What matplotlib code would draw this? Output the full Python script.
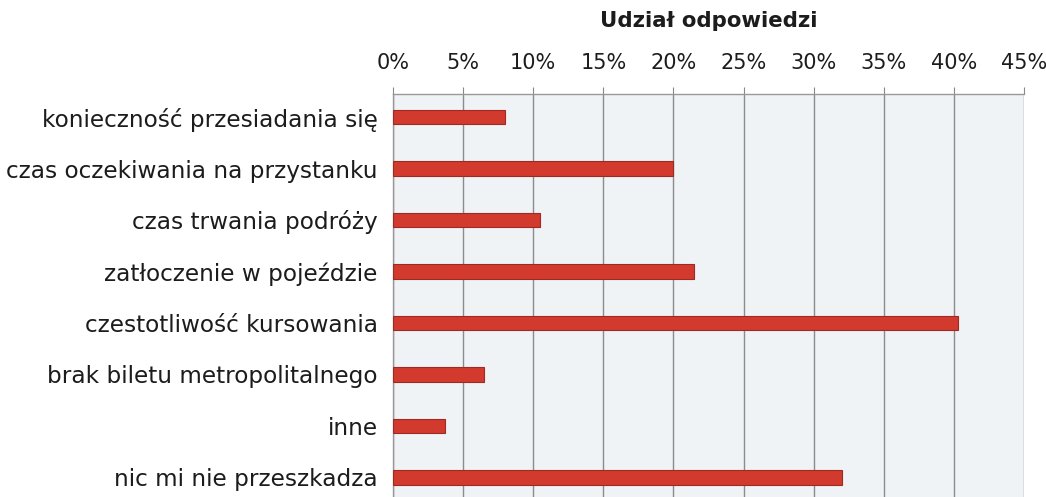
import numpy as np
import matplotlib
matplotlib.use("Agg")
import matplotlib.pyplot as plt

categories = [
    "konieczność przesiadania się",
    "czas oczekiwania na przystanku",
    "czas trwania podróży",
    "zatłoczenie w pojeździe",
    "czestotliwość kursowania",
    "brak biletu metropolitalnego",
    "inne",
    "nic mi nie przeszkadza",
]
shares = [8.0, 20.0, 10.5, 21.5, 40.3, 6.5, 3.7, 32.0]  # percent
ticks = [0, 5, 10, 15, 20, 25, 30, 35, 40, 45]
tick_labels = [f"{t}%" for t in ticks]
title = "Udział odpowiedzi"

plt.rcParams['font.family'] = ['DejaVu Sans']

fig = plt.figure(figsize=(10.46, 4.97), dpi=100)
ax = fig.add_axes([393 / 1046, 0.0, 631 / 1046, 1 - 94 / 497])

y = np.arange(len(categories))
ax.barh(y, shares, height=0.28, color='#d23a2e', edgecolor='#9e2a22', linewidth=0.8, zorder=3)

ax.set_facecolor('#eff3f6')
ax.set_xlim(0, 45)
ax.set_ylim(7.38, -0.447)
ax.set_xticks(ticks)
ax.set_xticklabels(tick_labels)
ax.set_yticks(y)
ax.set_yticklabels(categories)

ax.xaxis.tick_top()
ax.xaxis.set_label_position('top')
ax.set_xlabel(title, fontsize=15.3, fontweight='bold', color='#1c1c1c', labelpad=19)
ax.tick_params(axis='x', labelsize=15, length=5, color='#888888', pad=10, labelcolor='#1c1c1c')
ax.tick_params(axis='y', labelsize=16.7, length=0, pad=11, labelcolor='#1c1c1c')

ax.grid(axis='x', color='#8c8c8c', linewidth=1.0, zorder=1)
for side in ['right', 'bottom']:
    ax.spines[side].set_visible(False)
for side in ['top', 'left']:
    ax.spines[side].set_color('#999999')
    ax.spines[side].set_linewidth(1.0)

fig.savefig("out.png", dpi=100)
